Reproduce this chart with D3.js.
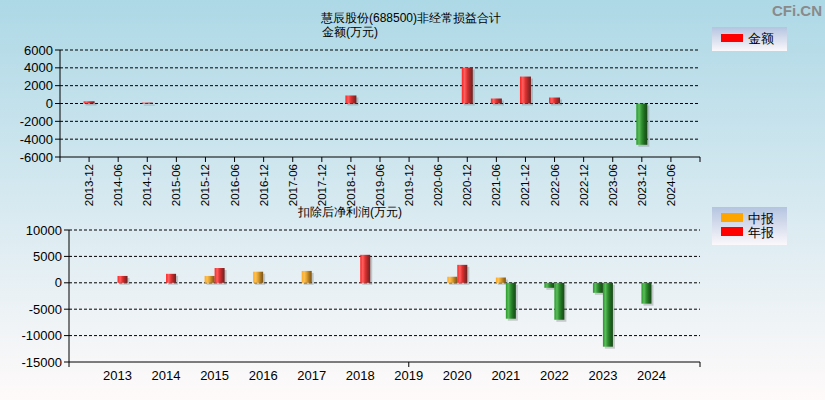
<!DOCTYPE html>
<html>
<head>
<meta charset="utf-8">
<script src="https://cdn.jsdelivr.net/npm/d3@7"></script>
<style>
  body { margin: 0; }
  svg { display: block; font-family: "Liberation Sans", Arial, sans-serif; }
</style>
</head>
<body>
<svg id="chart" width="825" height="400"></svg>
<script>
"use strict";
// top chart: 非经常损益合计, by report period
const periods = ["2013-12", "2014-06", "2014-12", "2015-06", "2015-12", "2016-06", "2016-12",
    "2017-06", "2017-12", "2018-12", "2019-06", "2019-12", "2020-06", "2020-12", "2021-06",
    "2021-12", "2022-06", "2022-12", "2023-06", "2023-12", "2024-06"];
const amounts = [250, null, 100, null, null, null, null, null, null, 900, null, null, null,
    4030, 560, 3020, 670, null, null, -4630, null];
const topTicks = [-6000, -4000, -2000, 0, 2000, 4000, 6000];

// bottom chart: 扣除后净利润
const years = ["2013", "2014", "2015", "2016", "2017", "2018", "2019", "2020", "2021", "2022", "2023", "2024"];
const interim = [null, null, 1300, 2100, 2250, null, null, 1150, 1000, -950, -1900, -3950];
const annual = [1300, 1700, 2800, null, null, 5300, null, 3400, -6800, -7000, -12100, null];
const bottomTicks = [-15000, -10000, -5000, 0, 5000, 10000];

const svg = d3.select("#chart");
const defs = svg.append("defs");

const bg = defs.append("linearGradient").attr("id", "bg").attr("x1", 0).attr("y1", 0).attr("x2", 0).attr("y2", 1);
bg.append("stop").attr("offset", "0%").attr("stop-color", "#add8e6");
bg.append("stop").attr("offset", "100%").attr("stop-color", "#fffafa");

const lg = defs.append("linearGradient").attr("id", "legendBg").attr("x1", 0).attr("y1", 0).attr("x2", 0).attr("y2", 1);
lg.append("stop").attr("offset", "0%").attr("stop-color", "#b4c4e0");
lg.append("stop").attr("offset", "100%").attr("stop-color", "#fbf8fb");

function barGradient(id, stops) {
    const g = defs.append("linearGradient").attr("id", id).attr("x1", 0).attr("y1", 0).attr("x2", 1).attr("y2", 0);
    stops.forEach((c, i) => {
        g.append("stop").attr("offset", (i / (stops.length - 1) * 100) + "%").attr("stop-color", c);
    });
}
barGradient("gRed", ["#ff2020", "#ff6060", "#e03030", "#a02828", "#702020"]);
barGradient("gGreen", ["#249a24", "#5cbc5c", "#2e8e2e", "#1e641e", "#184a18"]);
barGradient("gOrange", ["#ffa820", "#ffc050", "#e0a030", "#a87420", "#7a5418"]);

svg.append("rect").attr("width", 825).attr("height", 400).attr("fill", "url(#bg)");

svg.append("text").attr("x", 822).attr("y", 16).attr("text-anchor", "end")
    .attr("font-size", 15).attr("font-weight", "bold").attr("fill", "#8a8a8a").text("CFi.CN");

function fillFor(v, positive) {
    return v < 0 ? "url(#gGreen)" : positive;
}

function drawAxesAndGrid(y, ticks, left, right) {
    const g = svg.append("g");
    ticks.forEach((t, i) => {
        if (i > 0) {
            g.append("line").attr("x1", left).attr("x2", right).attr("y1", y(t)).attr("y2", y(t))
                .attr("stroke", "#000").attr("stroke-dasharray", "3,2");
        }
        g.append("line").attr("x1", left - 5).attr("x2", left).attr("y1", y(t)).attr("y2", y(t)).attr("stroke", "#000");
        g.append("text").attr("x", left - 7).attr("y", y(t)).attr("dy", "0.35em").attr("text-anchor", "end")
            .attr("font-size", 13).attr("fill", "#000").text(t);
    });
    const y0 = y(ticks[0]);
    const y1 = y(ticks[ticks.length - 1]);
    g.append("line").attr("x1", left).attr("x2", left).attr("y1", y1).attr("y2", y0).attr("stroke", "#000");
    g.append("line").attr("x1", left).attr("x2", right).attr("y1", y0).attr("y2", y0).attr("stroke", "#000");
    return g;
}

function drawBar(cx, v, y, w, positiveFill) {
    if (v == null) {
        return;
    }
    const top = Math.min(y(0), y(v));
    const h = Math.max(1, Math.abs(y(v) - y(0)));
    svg.append("rect").attr("x", cx + 2).attr("y", top + 2).attr("width", w).attr("height", h)
        .attr("fill", "#666").attr("opacity", 0.3);
    svg.append("rect").attr("x", cx).attr("y", top).attr("width", w).attr("height", h)
        .attr("fill", fillFor(v, positiveFill));
}

// ---- top chart ----
const xTop = d3.scalePoint().domain(periods).range([60, 700]).padding(1);
const yTop = d3.scaleLinear().domain([-6000, 6000]).range([157, 50]);
drawAxesAndGrid(yTop, topTicks, 60, 700);
[60, 700].concat(periods.map(p => xTop(p))).forEach(x => {
    svg.append("line").attr("x1", x).attr("x2", x).attr("y1", 157).attr("y2", 162).attr("stroke", "#000");
});
periods.forEach(p => {
    svg.append("text").attr("transform", `translate(${xTop(p) + 4},164) rotate(-90)`)
        .attr("text-anchor", "end").attr("font-size", 11.5).attr("fill", "#000").text(p);
});
periods.forEach((p, i) => drawBar(xTop(p) - 5.5, amounts[i], yTop, 11, "url(#gRed)"));

svg.append("text").attr("x", 411).attr("y", 22).attr("text-anchor", "middle").attr("font-size", 12)
    .text("慧辰股份(688500)非经常损益合计");
svg.append("text").attr("x", 322).attr("y", 36).attr("font-size", 12).text("金额(万元)");

svg.append("rect").attr("x", 712).attr("y", 27).attr("width", 75).attr("height", 24).attr("fill", "url(#legendBg)");
svg.append("rect").attr("x", 721).attr("y", 34).attr("width", 22).attr("height", 8).attr("fill", "#ff0000");
svg.append("text").attr("x", 748).attr("y", 43).attr("font-size", 13).text("金额");

// ---- bottom chart ----
const xBot = d3.scalePoint().domain(years).range([69, 700]).padding(1);
const yBot = d3.scaleLinear().domain([-15000, 10000]).range([362, 230]);
drawAxesAndGrid(yBot, bottomTicks, 69, 700);
[69, xBot("2019"), 700].forEach(x => {
    svg.append("line").attr("x1", x).attr("x2", x).attr("y1", 362).attr("y2", 367).attr("stroke", "#000");
});
years.forEach(yr => {
    svg.append("text").attr("x", xBot(yr)).attr("y", 380).attr("text-anchor", "middle")
        .attr("font-size", 13).attr("fill", "#000").text(yr);
});
years.forEach((yr, i) => {
    drawBar(xBot(yr) - 10, interim[i], yBot, 10, "url(#gOrange)");
    drawBar(xBot(yr), annual[i], yBot, 10, "url(#gRed)");
});

svg.append("text").attr("x", 298).attr("y", 216).attr("font-size", 12).text("扣除后净利润(万元)");

svg.append("rect").attr("x", 712).attr("y", 207).attr("width", 75).attr("height", 38).attr("fill", "url(#legendBg)");
svg.append("rect").attr("x", 721).attr("y", 213).attr("width", 22).attr("height", 9).attr("fill", "#ffa500");
svg.append("rect").attr("x", 721).attr("y", 227).attr("width", 22).attr("height", 9).attr("fill", "#ff0000");
svg.append("text").attr("x", 748).attr("y", 223).attr("font-size", 13).text("中报");
svg.append("text").attr("x", 748).attr("y", 237).attr("font-size", 13).text("年报");
</script>
</body>
</html>
